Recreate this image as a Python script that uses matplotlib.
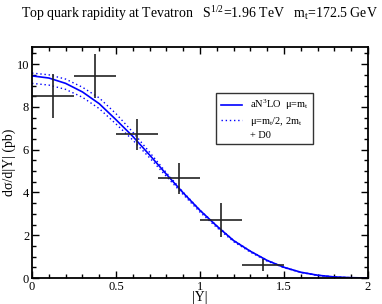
import numpy as np
import matplotlib.pyplot as plt
from matplotlib.lines import Line2D
from matplotlib.ticker import MultipleLocator

plt.rcParams['font.family'] = 'Liberation Serif'
plt.rcParams['mathtext.fontset'] = 'custom'
plt.rcParams['mathtext.rm'] = 'Liberation Serif'
plt.rcParams['mathtext.it'] = 'Liberation Serif:italic'

# theory curves (aN3LO)
y_grid = [0.0, 0.1, 0.2, 0.3, 0.4, 0.5, 0.6, 0.7, 0.8, 0.9, 1.0,
          1.1, 1.2, 1.3, 1.4, 1.5, 1.6, 1.7, 1.8, 1.9, 2.0]
central = [9.45, 9.35, 9.10, 8.70, 8.15, 7.40, 6.62, 5.75, 4.85, 3.98, 3.16,
           2.43, 1.75, 1.25, 0.82, 0.50, 0.27, 0.13, 0.05, 0.015, 0.0]
upper = [9.58, 9.50, 9.30, 8.92, 8.42, 7.68, 6.82, 5.88, 4.92, 4.01, 3.18,
         2.44, 1.76, 1.26, 0.83, 0.50, 0.27, 0.13, 0.05, 0.015, 0.0]
lower = [9.10, 9.02, 8.82, 8.45, 7.92, 7.20, 6.45, 5.62, 4.75, 3.90, 3.08,
         2.36, 1.70, 1.21, 0.79, 0.48, 0.26, 0.12, 0.045, 0.013, 0.0]

# D0 data
d0_x = [0.125, 0.375, 0.625, 0.875, 1.125, 1.375]
d0_xerr = [0.125, 0.125, 0.125, 0.125, 0.125, 0.125]
d0_y = [8.50, 9.45, 6.71, 4.66, 2.71, 0.61]
d0_yerr = [1.02, 1.02, 0.74, 0.73, 0.80, 0.30]

fig = plt.figure(figsize=(3.82, 3.04), dpi=100)
ax = fig.add_axes([0.0838, 0.0855, 0.8796, 0.7599])

ax.plot(y_grid, central, color='#0000ff', lw=1.2)
ax.plot(y_grid, upper, color='#0000ff', lw=1.0, ls=(0, (1, 2)))
ax.plot(y_grid, lower, color='#0000ff', lw=1.0, ls=(0, (1, 2)))
ax.errorbar(d0_x, d0_y, xerr=d0_xerr, yerr=d0_yerr, fmt='none',
            ecolor='#222222', elinewidth=1.2, capsize=0)

ax.set_xlim(0, 2)
ax.set_ylim(0, 10.8)
ax.xaxis.set_major_locator(MultipleLocator(0.5))
ax.xaxis.set_minor_locator(MultipleLocator(0.1))
ax.yaxis.set_major_locator(MultipleLocator(2))
ax.yaxis.set_minor_locator(MultipleLocator(0.5))
ax.set_xticks([0, 0.5, 1, 1.5, 2])
ax.set_xticklabels(['0', '0.5', '1', '1.5', '2'])
ax.tick_params(which='both', direction='in', top=True, right=True,
               labelsize=9, width=1.0)
ax.tick_params(which='major', length=5, pad=2)
ax.tick_params(which='minor', length=3)
for s in ax.spines.values():
    s.set_linewidth(1.3)

ax.set_xlabel('|Y|', fontsize=10, labelpad=-1)
ax.set_ylabel('dσ/d|Y| (pb)', fontsize=10, labelpad=0.5)

fig.text(0.521, 0.957,
         r'Top quark rapidity at Tevatron   S$^{1/2}$=1.96 TeV   m$_{\rm t}$=172.5 GeV',
         ha='center', va='center', fontsize=10)

handles = [Line2D([], [], color='#0000ff', lw=1.2),
           Line2D([], [], color='#0000ff', lw=1.0, ls=(0, (1, 2))),
           Line2D([], [], color='none')]
labels = [r'aN$^3$LO  μ=m$_{\rm t}$',
          r'μ=m$_{\rm t}$/2, 2m$_{\rm t}$',
          '+ D0']
leg = ax.legend(handles, labels, loc='upper left', bbox_to_anchor=(0.548, 0.80),
                borderaxespad=0, fontsize=7.5, frameon=True, fancybox=False,
                edgecolor='black', handlelength=2.0, handletextpad=0.8,
                borderpad=0.45, labelspacing=0.25)
leg.get_frame().set_linewidth(1.0)

fig.savefig('out.png', dpi=100)
